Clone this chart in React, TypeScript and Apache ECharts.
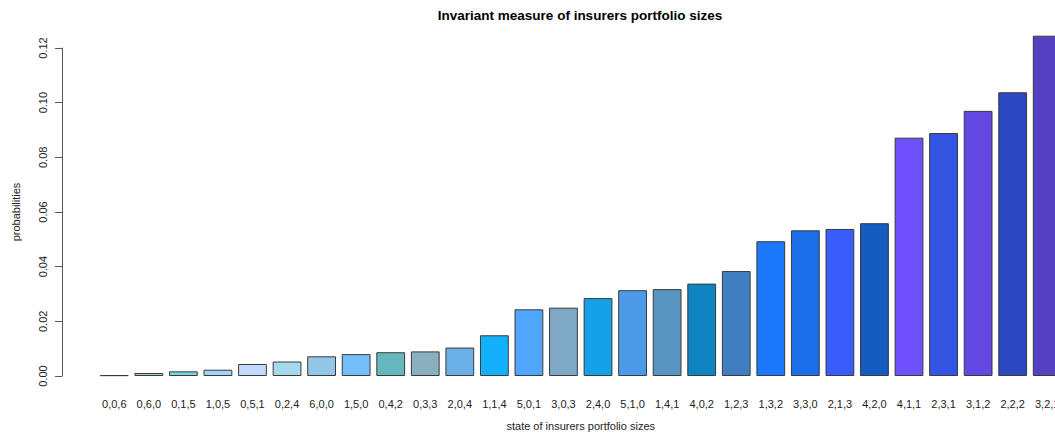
import React, { useEffect, useRef } from "react";
import * as echarts from "echarts";

const categories = [
  "0,0,6", "0,6,0", "0,1,5", "1,0,5", "0,5,1", "0,2,4", "6,0,0", "1,5,0", "0,4,2", "0,3,3",
  "2,0,4", "1,1,4", "5,0,1", "3,0,3", "2,4,0", "5,1,0", "1,4,1", "4,0,2", "1,2,3", "1,3,2",
  "3,3,0", "2,1,3", "4,2,0", "4,1,1", "2,3,1", "3,1,2", "2,2,2", "3,2,1",
];

const probabilities = [
  0.0003, 0.0011, 0.0017, 0.0023, 0.0044, 0.0053, 0.0072, 0.0080, 0.0087, 0.0090,
  0.0104, 0.0149, 0.0244, 0.0250, 0.0285, 0.0314, 0.0318, 0.0338, 0.0384, 0.0493,
  0.0533, 0.0538, 0.0559, 0.0872, 0.0889, 0.0970, 0.1038, 0.1245,
];

const barColors = [
  "#6f9aa8", "#9ed0e6", "#74d8e0", "#9fd4fa", "#c4dafc", "#a6d8ec", "#94c6e8", "#74bdfb",
  "#66b8c0", "#8ab0c0", "#6ab0e6", "#14b0fc", "#50a6fc", "#7ea8c4", "#16a0e8", "#4c9ae8",
  "#5a94c0", "#1084c0", "#407ec0", "#1c78fc", "#1c6ee8", "#3a5cfc", "#145cc0", "#6e50fc",
  "#3454e4", "#6448e4", "#2c48c0", "#5440c0",
];

const yTicks = { min: 0, max: 0.12, interval: 0.02 };

const FONT = "Liberation Sans, Arial, Helvetica, sans-serif";

export default function App() {
  const ref = useRef<HTMLDivElement>(null);

  useEffect(() => {
    if (!ref.current) return;
    const chart = echarts.init(ref.current, undefined, { renderer: "svg" });
    chart.setOption({
      animation: false,
      backgroundColor: "#ffffff",
      title: {
        text: "Invariant measure of insurers portfolio sizes",
        left: 575,
        textAlign: "center",
        top: 3,
        textStyle: { fontFamily: FONT, fontSize: 13.5, fontWeight: "bold", color: "#000" },
      },
      grid: { left: 97, right: 0.5, top: 48, bottom: 65 },
      xAxis: {
        type: "category",
        data: categories,
        name: "state of insurers portfolio sizes",
        nameLocation: "middle",
        nameGap: 44,
        nameTextStyle: { fontFamily: FONT, fontSize: 11, color: "#222" },
        axisLine: { show: false },
        axisTick: { show: false },
        axisLabel: {
          interval: 0,
          margin: 22,
          fontFamily: FONT,
          fontSize: 11,
          color: "#222",
        },
      },
      yAxis: {
        type: "value",
        min: yTicks.min,
        max: yTicks.max,
        interval: yTicks.interval,
        offset: 35,
        name: "probabilities",
        nameLocation: "middle",
        nameRotate: 90,
        nameGap: 41,
        nameTextStyle: { fontFamily: FONT, fontSize: 11, color: "#222" },
        splitLine: { show: false },
        axisLine: { show: true, lineStyle: { color: "#555", width: 1 } },
        axisTick: { show: true, length: 7, lineStyle: { color: "#555", width: 1 } },
        axisLabel: {
          rotate: 90,
          margin: 14,
          fontFamily: FONT,
          fontSize: 11,
          color: "#222",
          formatter: (v: number) => v.toFixed(2),
        },
      },
      series: [
        {
          type: "bar",
          clip: false,
          barCategoryGap: "16.67%",
          data: probabilities.map((v, i) => ({
            value: v,
            itemStyle: { color: barColors[i] },
          })),
          itemStyle: { borderColor: "#3a3a3a", borderWidth: 1 },
        },
      ],
    });
    return () => chart.dispose();
  }, []);

  return (
    <div
      style={{
        position: "fixed",
        left: 0,
        top: 0,
        width: 1055,
        height: 441,
        overflow: "hidden",
        background: "#fff",
      }}
    >
      <div ref={ref} style={{ width: 1065, height: 441 }} />
    </div>
  );
}
